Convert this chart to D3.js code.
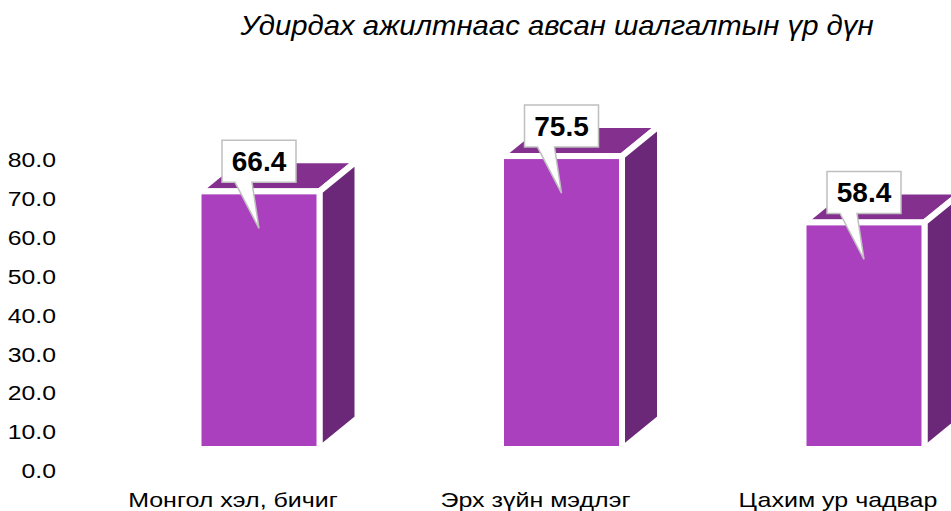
<!DOCTYPE html>
<html><head><meta charset="utf-8">
<script src="https://cdn.jsdelivr.net/npm/d3@7"></script>
<style>
html,body{margin:0;padding:0;background:#fff;}
svg{display:block;font-family:"Liberation Sans",Arial,sans-serif;}
</style></head>
<body>
<svg id="chart" width="951" height="511"></svg>
<script>
const title = "Удирдах ажилтнаас авсан шалгалтын үр дүн";
const categories = ["Монгол хэл, бичиг", "Эрх зүйн мэдлэг", "Цахим ур чадвар"];
const values = [66.4, 75.5, 58.4];
const tickValues = [0, 10, 20, 30, 40, 50, 60, 70, 80];

const svg = d3.select("#chart");

// scales
const x = d3.scalePoint().domain(categories).range([259, 864]);
const barW = 121;
const axisY = d3.scaleLinear().domain([0, 80]).range([471, 160]);
const barY = d3.scaleLinear().domain([0, 80]).range([449, 449 - 3.88 * 80]);
const dx = 38, dy = -31;

const colFront = "#AB40BF", colTop = "#83308F", colSide = "#6C2878";

// title
svg.append("g").attr("transform", "translate(557,35) scale(1.085,1)")
  .append("text")
  .attr("text-anchor", "middle")
  .attr("font-style", "italic")
  .attr("font-size", 27)
  .attr("fill", "#000")
  .text(title);

// axis
const axis = d3.axisLeft(axisY).tickValues(tickValues).tickFormat(d3.format(".1f")).tickSize(0).tickPadding(0);
const ag = svg.append("g").attr("transform", "translate(56,0)").call(axis);
ag.select(".domain").remove();
ag.selectAll("text").attr("font-size", 21).attr("fill", "#000")
  .attr("font-family", "Liberation Sans, Arial, sans-serif")
  .attr("transform", "scale(1.18,1)");

// bars
const bars = svg.append("g").selectAll("g").data(values).join("g");
bars.each(function(v, i) {
  const g = d3.select(this);
  const cx = x(categories[i]);
  const x0 = cx - barW / 2, x1 = cx + barW / 2;
  const yt = barY(v), yb = barY(0);
  g.append("polygon")
    .attr("points", [[x0, yt], [x1, yt], [x1 + dx, yt + dy], [x0 + dx, yt + dy]].map(p => p.join(",")).join(" "))
    .attr("fill", colTop).attr("stroke", "#fff").attr("stroke-width", 6);
  g.append("polygon")
    .attr("points", [[x1, yt], [x1 + dx, yt + dy], [x1 + dx, yb + dy], [x1, yb]].map(p => p.join(",")).join(" "))
    .attr("fill", colSide).attr("stroke", "#fff").attr("stroke-width", 6);
  g.append("rect")
    .attr("x", x0).attr("y", yt).attr("width", barW).attr("height", yb - yt)
    .attr("fill", colFront).attr("stroke", "#fff").attr("stroke-width", 6);
});

// callouts
const labels = svg.append("g").selectAll("g").data(values).join("g");
labels.each(function(v, i) {
  const g = d3.select(this);
  const cx = x(categories[i]);
  const yt = barY(v);
  const bL = cx - 37, bR = cx + 37, bT = yt - 51, bB = yt - 9;
  const path = d3.path();
  path.moveTo(bL, bT);
  path.lineTo(bR, bT);
  path.lineTo(bR, bB);
  path.lineTo(cx - 7, bB);
  path.lineTo(cx, yt + 37);
  path.lineTo(cx - 24, bB);
  path.lineTo(bL, bB);
  path.closePath();
  g.append("path").attr("d", path.toString())
    .attr("fill", "#fff").attr("stroke", "#BFBFBF").attr("stroke-width", 1.5);
  g.append("text")
    .attr("x", cx).attr("y", bB - 11.5)
    .attr("text-anchor", "middle")
    .attr("font-weight", "bold").attr("font-size", 28)
    .attr("fill", "#000")
    .text(d3.format(".1f")(v));
});

// category labels
svg.append("g").selectAll("g").data(categories).join("g")
  .attr("transform", d => `translate(${x(d) - 26},507)`)
  .append("text")
  .attr("text-anchor", "middle")
  .attr("font-size", 21)
  .attr("fill", "#000")
  .attr("transform", "scale(1.19,1)")
  .text(d => d);
</script>
</body></html>
